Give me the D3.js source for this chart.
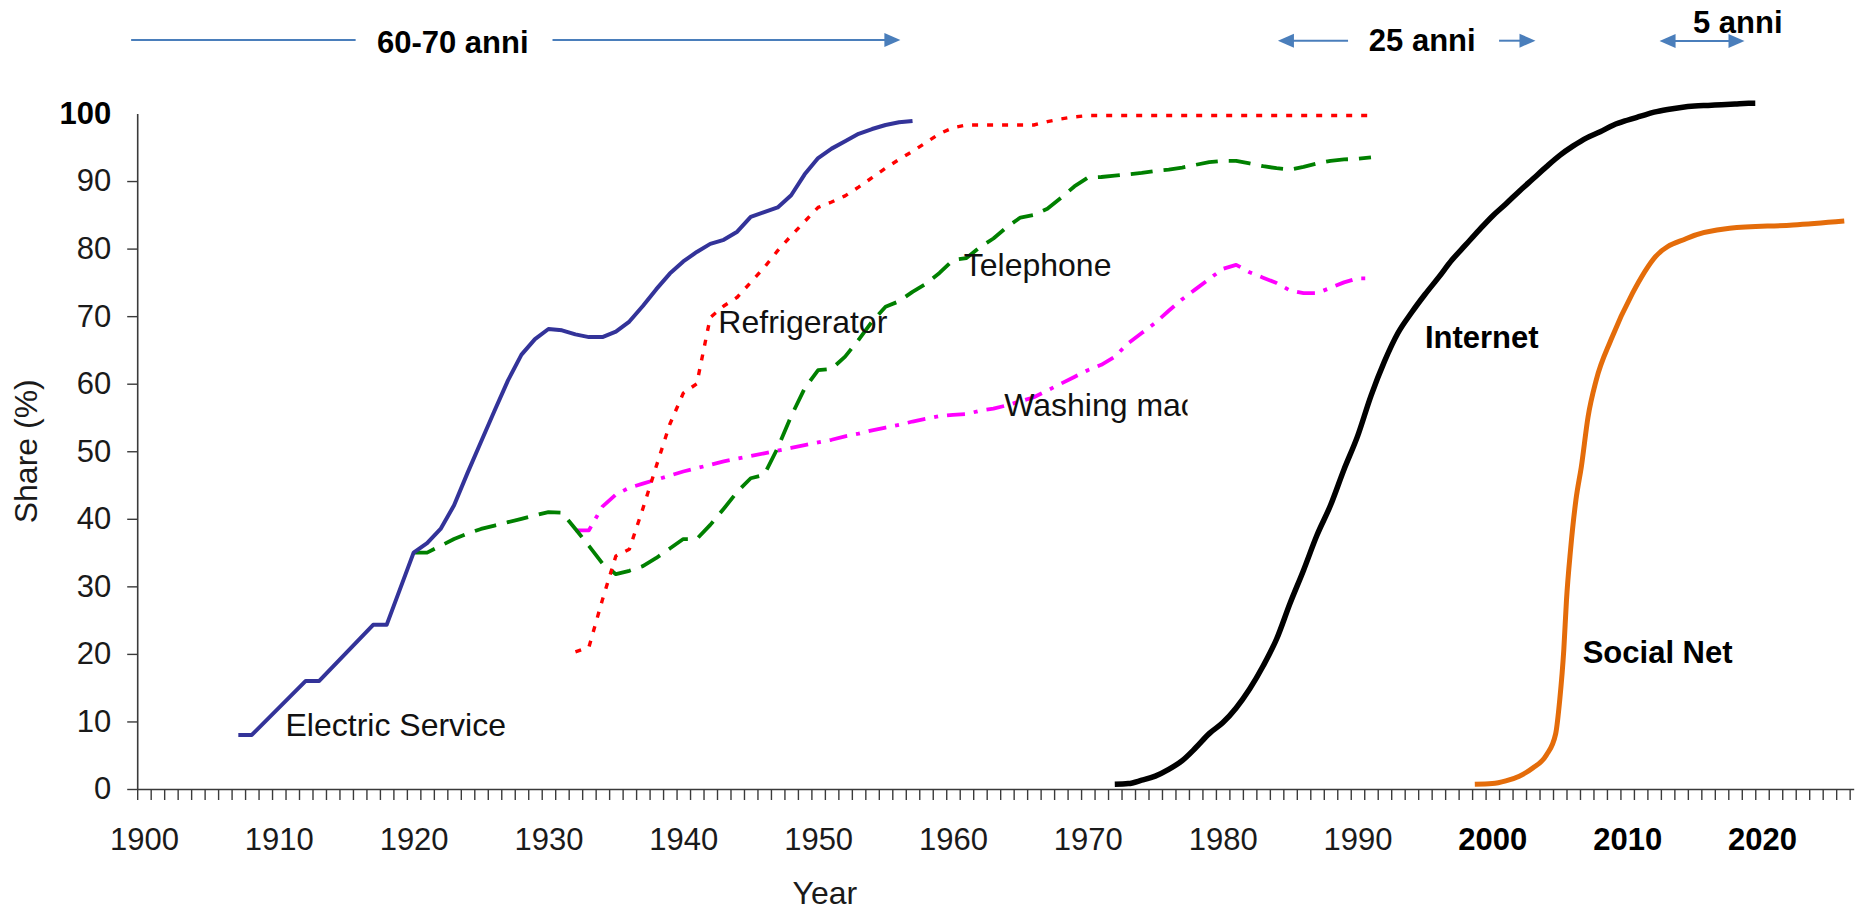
<!DOCTYPE html>
<html><head><meta charset="utf-8">
<script src="https://cdn.jsdelivr.net/npm/d3@7"></script>
<style>
body{margin:0;background:#fff}
svg{display:block}
text{font-family:"Liberation Sans",Arial,sans-serif}
</style>
</head><body>
<svg id="chart" width="1864" height="914"></svg>
<script>
// ---------- data ----------
const electricYears = [1907,1908,1912,1913,1917,1918,1920,1921,1922,1923,1924,1925,1926,1927,1928,1929,1930,1931,1932,1933,1934,1935,1936,1937,1938,1939,1940,1941,1942,1943,1944,1945,1946,1947,1948,1949,1950,1951,1952,1953,1954,1955,1956,1957];
const electricValues = [8,8,16,16,24.3,24.3,35,36.4,38.5,42,46.8,51.4,56,60.5,64.3,66.6,68.1,67.9,67.3,66.9,66.9,67.7,69.2,71.5,74,76.3,78.1,79.5,80.7,81.3,82.5,84.7,85.4,86.1,87.9,91,93.4,94.8,95.9,97,97.7,98.3,98.7,98.9];

const fridgeYears = [1932,1933,1934,1935,1936,1937,1938,1939,1940,1941,1942,1943,1944,1945,1946,1947,1948,1949,1950,1951,1952,1953,1954,1955,1956,1957,1958,1959,1960,1961,1962,1963,1964,1965,1966,1967,1968,1969,1970,1975,1980,1985,1991];
const fridgeValues = [20.3,21,28,34.5,35.5,41.5,47.8,54,58.6,60,69.8,71.5,72.8,75,77.2,79.7,81.9,84,86.1,86.9,87.8,89.1,90.5,91.9,93.2,94.4,95.7,97,97.9,98.3,98.3,98.3,98.3,98.3,98.3,98.8,99.2,99.5,99.7,99.7,99.7,99.7,99.7];

const phoneYears = [1920,1921,1922,1923,1924,1925,1926,1927,1928,1929,1930,1931,1932,1933,1934,1935,1936,1937,1938,1939,1940,1941,1942,1943,1944,1945,1946,1947,1948,1949,1950,1951,1952,1953,1954,1955,1956,1957,1958,1959,1960,1961,1962,1963,1964,1965,1966,1967,1968,1969,1970,1971,1972,1973,1974,1975,1976,1977,1978,1979,1980,1981,1982,1983,1984,1985,1986,1987,1988,1989,1990,1991];
const phoneValues = [35,35,36,37,37.8,38.5,39,39.5,40,40.5,41,40.9,38.5,36,33.4,31.8,32.3,33,34.2,35.6,37,37,39.1,41.5,44,46,46.5,50.5,55.2,59.3,62,62.2,64,66.5,69.2,71.4,72.2,73.6,74.8,76.4,78.3,78.6,80.2,81.5,83.2,84.6,85,85.9,87.5,89.2,90.5,90.6,90.8,91,91.2,91.5,91.7,92,92.4,92.8,93,93,92.6,92.2,91.9,91.7,92.1,92.6,93,93.2,93.3,93.5];

const washerYears = [1932,1933,1934,1935,1936,1937,1938,1939,1940,1941,1942,1943,1944,1945,1946,1947,1948,1949,1950,1951,1952,1953,1954,1955,1956,1957,1958,1959,1960,1961,1962,1963,1964,1965,1966,1967,1968,1969,1970,1971,1972,1973,1974,1975,1976,1977,1978,1979,1980,1981,1982,1983,1984,1985,1986,1987,1988,1989,1990,1991];
const washerValues = [38.3,38.3,41.8,43.6,44.6,45.2,45.8,46.4,47,47.5,48,48.5,48.9,49.3,49.7,50.1,50.5,50.9,51.3,51.7,52.2,52.6,53.1,53.5,53.9,54.4,54.8,55.2,55.4,55.5,56,56.3,56.8,57.4,58,59,60,61,62,62.8,64,66,67.5,69,70.8,72.5,74,75.5,77,77.6,76.5,75.7,74.9,73.8,73.4,73.4,74.2,75,75.6,75.6];

const internetYears = [1972,1973,1974,1975,1976,1977,1978,1979,1980,1981,1982,1983,1984,1985,1986,1987,1988,1989,1990,1991,1992,1993,1994,1995,1996,1997,1998,1999,2000,2001,2002,2003,2004,2005,2006,2007,2008,2009,2010,2011,2012,2013,2014,2015,2016,2017,2018,2019,2019.5];
const internetValues = [0.7,0.8,1.3,1.9,2.9,4.2,6.1,8.2,9.8,12,14.8,18.2,22.2,27.5,32.4,37.6,42,47.3,52.2,58.2,63.3,67.5,70.5,73.2,75.7,78.3,80.5,82.7,84.8,86.6,88.5,90.3,92.1,93.8,95.2,96.4,97.3,98.3,99,99.6,100.2,100.6,100.9,101.1,101.2,101.3,101.4,101.5,101.5];

const socialYears = [1998.7,2000,2001,2002,2003,2004,2004.7,2005,2005.3,2005.5,2005.8,2006.2,2006.6,2007.1,2007.7,2008.8,2010.4,2012.1,2014.4,2017.6,2022.3,2026.1];
const socialValues = [0.7,0.8,1.2,1.9,3.1,5,8.2,13.2,20.6,28,35.4,42.8,47.7,55.1,60.5,66.5,73.4,78.8,81.5,83,83.5,84.1];

const xTickLabels = [1900,1910,1920,1930,1940,1950,1960,1970,1980,1990,2000,2010,2020];
const boldXTickLabels = [2000,2010,2020];
const yTickLabels = [0,10,20,30,40,50,60,70,80,90,100];
const boldYTickLabels = [100];

// ---------- setup ----------
const svg = d3.select("#chart");
svg.append("rect").attr("width",1864).attr("height",914).attr("fill","#fff");

const x = d3.scaleLinear().domain([1899.5, 2026.8]).range([137.2, 1853.7]);
const y = d3.scaleLinear().domain([0, 100]).range([789, 113.5]);

const axisColor = "#3a3a3a";

// x axis minor ticks every year
const xMinor = svg.append("g").attr("transform",`translate(0,${y(0)})`)
  .call(d3.axisBottom(x).tickValues(d3.range(1899.5, 2027, 1)).tickSize(11).tickSizeOuter(0).tickFormat(""));
xMinor.select(".domain").attr("stroke",axisColor).attr("stroke-width",1.6);
xMinor.selectAll(".tick line").attr("stroke",axisColor).attr("stroke-width",1.4);

// x labels
const xLab = svg.append("g").attr("transform",`translate(0,${y(0)})`)
  .call(d3.axisBottom(x).tickValues(xTickLabels).tickSize(0).tickPadding(39).tickFormat(d3.format("d")));
xLab.select(".domain").remove();
xLab.selectAll("text")
  .attr("font-size",31)
  .attr("font-family",'"Liberation Sans",Arial,sans-serif')
  .attr("fill",d => boldXTickLabels.includes(d) ? "#000" : "#1a1a1a")
  .attr("font-weight",d => boldXTickLabels.includes(d) ? "bold" : "normal");

// y axis
const yAx = svg.append("g").attr("transform",`translate(${x.range()[0]},0)`)
  .call(d3.axisLeft(y).tickValues(yTickLabels).tickSize(10).tickPadding(16).tickSizeOuter(0).tickFormat(d3.format("d")));
yAx.select(".domain").attr("stroke",axisColor).attr("stroke-width",1.6);
yAx.selectAll(".tick line").attr("stroke",axisColor).attr("stroke-width",1.4)
  .attr("opacity",d => boldYTickLabels.includes(d) ? 0 : 1);
yAx.selectAll("text")
  .attr("font-size",31)
  .attr("font-family",'"Liberation Sans",Arial,sans-serif')
  .attr("fill",d => boldYTickLabels.includes(d) ? "#000" : "#1a1a1a")
  .attr("font-weight",d => boldYTickLabels.includes(d) ? "bold" : "normal");

// axis titles
svg.append("text").attr("transform",`translate(26,${y(50)}) rotate(-90)`)
  .attr("text-anchor","middle").attr("dominant-baseline","central")
  .attr("font-size",32).attr("fill","#1a1a1a").text("Share (%)");
svg.append("text").attr("x",x(1950.5)).attr("y",904)
  .attr("text-anchor","middle").attr("font-size",32).attr("fill","#1a1a1a").text("Year");

// ---------- series ----------
const zip = (a,b) => a.map((v,i)=>[v,b[i]]);
const lineLin = d3.line().x(d=>x(d[0])).y(d=>y(d[1]));
const lineSmooth = d3.line().x(d=>x(d[0])).y(d=>y(d[1])).curve(d3.curveMonotoneX);

const series = [
  {data: zip(washerYears, washerValues), color:"#ff00ff", width:3.8, dash:"18,9,4,9", gen: lineLin},
  {data: zip(phoneYears, phoneValues), color:"#008000", width:3.8, dash:"22,11", gen: lineLin},
  {data: zip(fridgeYears, fridgeValues), color:"#ff0000", width:3.4, dash:"6,9", gen: lineLin},
  {data: zip(electricYears, electricValues), color:"#333399", width:4, dash:null, gen: lineLin},
  {data: zip(internetYears, internetValues), color:"#000000", width:5.5, dash:null, gen: lineSmooth},
  {data: zip(socialYears, socialValues), color:"#e46c0a", width:5, dash:null, gen: lineSmooth}
];
series.forEach(s => {
  svg.append("path").datum(s.data).attr("d", s.gen)
    .attr("fill","none").attr("stroke",s.color).attr("stroke-width",s.width)
    .attr("stroke-linejoin","round")
    .attr("stroke-dasharray", s.dash);
});

// ---------- in-chart labels ----------
const reg = (txt, yr, val) => svg.append("text").attr("x",x(yr)).attr("y",y(val))
  .attr("font-size",32).attr("fill","#111").text(txt);
reg("Electric Service", 1910.5, 7.8);
reg("Refrigerator", 1942.6, 67.5);
reg("Telephone", 1960.8, 76.0);
svg.append("clipPath").attr("id","wclip").append("rect")
  .attr("x",x(1963)).attr("y",y(70)).attr("width",x(1977.4)-x(1963)).attr("height",y(45)-y(70));
reg("Washing machine", 1963.8, 55.2).attr("clip-path","url(#wclip)");

const bold = (txt, yr, val) => svg.append("text").attr("x",x(yr)).attr("y",y(val))
  .attr("font-size",31).attr("font-weight","bold").attr("fill","#000").text(txt);
bold("Internet", 1995.0, 65.3);
bold("Social Net", 2006.7, 18.6);

// ---------- top annotations ----------
const arrowColor = "#4a7ebb";
const ann = svg.append("g");
function seg(y1, y2, py){
  ann.append("line").attr("x1",x(y1)).attr("x2",x(y2)).attr("y1",py).attr("y2",py)
    .attr("stroke",arrowColor).attr("stroke-width",2);
}
function head(yr, py, dir){ // dir: +1 pointing right, -1 pointing left
  const tx = x(yr);
  ann.append("path")
    .attr("d",`M${tx},${py} L${tx-dir*16},${py-7} L${tx-dir*16},${py+7} Z`)
    .attr("fill",arrowColor);
}
function label(txt, yr, py){
  ann.append("text").attr("x",x(yr)).attr("y",py).attr("text-anchor","middle")
    .attr("font-size",31).attr("font-weight","bold").attr("fill","#000").text(txt);
}
// 60-70 anni
seg(1899.05, 1915.7, 40);
seg(1930.3, 1955.0, 40);
head(1956.1, 40, 1);
label("60-70 anni", 1922.9, 52.7);
// 25 anni
seg(1985.0, 1989.3, 40.7);
head(1984.1, 40.7, -1);
seg(2000.5, 2002.2, 40.7);
head(2003.2, 40.7, 1);
label("25 anni", 1994.8, 50.7);
// 5 anni
seg(2013.2, 2017.9, 41);
head(2012.4, 41, -1);
head(2018.7, 41, 1);
label("5 anni", 2018.2, 33.3);
</script>
</body></html>
